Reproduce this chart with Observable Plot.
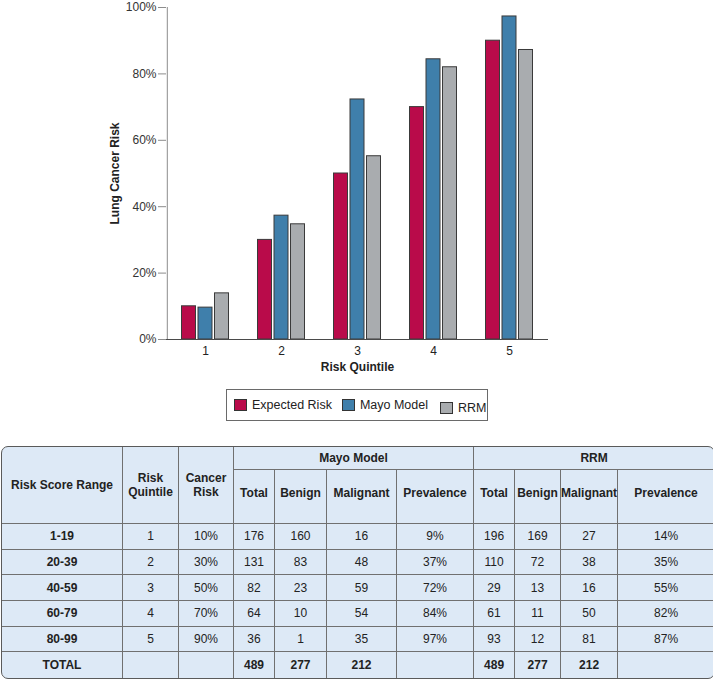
<!DOCTYPE html>
<html>
<head>
<meta charset="utf-8">
<script src="https://cdn.jsdelivr.net/npm/d3@7"></script>
<script src="https://cdn.jsdelivr.net/npm/@observablehq/plot@0.6"></script>
<style>
  html, body { margin: 0; padding: 0; background: #fff; overflow: hidden; width: 713px; height: 679px; }
  body { font-family: "Liberation Sans", Arial, Helvetica, sans-serif; color: #222; position: relative; }
  #chart { position: absolute; left: 0; top: 0; }
  #legend { position: absolute; left: 226px; top: 389px; width: 260px; height: 30px; border: 1px solid #6a6a6a;
            display: flex; align-items: center; font-size: 12.5px; box-sizing: content-box; }
  #legend .item { display: flex; align-items: center; margin-left: 7px; }
  #legend .item + .item { margin-left: 10px; }
  #legend .sw { width: 11px; height: 10px; border: 1px solid #333; margin-right: 5px; }
  #tbl { position: absolute; left: 1px; top: 446px; }
  table { border-collapse: separate; border-spacing: 0; table-layout: fixed; width: 712px;
          border: 1px solid #5a5a5a; border-radius: 7px; background: #dde9f6; font-size: 12px; color: #222; }
  td, th { padding: 0; text-align: center; vertical-align: middle; border-right: 1px solid #707070;
           border-bottom: 1px solid #707070; box-sizing: border-box; line-height: 14px; }
  th { font-weight: bold; }
  td.last, th.last { border-right: none; }
  tr.lastrow td { border-bottom: none; }
  td.b { font-weight: bold; }
  th.sub { padding-bottom: 8px; }
</style>
</head>
<body>
<div id="chart"></div>
<div id="legend"></div>
<div id="tbl"></div>
<script>
// ---------- chart data ----------
const quintiles = [1, 2, 3, 4, 5];
const seriesNames = ["Expected Risk", "Mayo Model", "RRM"];
const seriesColors = ["#b90b4a", "#3f7fab", "#a9acaf"];
const expectedRisk = [10, 30, 50, 70, 90];
const mayoRisk = [9.6, 37.3, 72.3, 84.4, 97.3];
const rrmRisk = [13.9, 34.7, 55.2, 82, 87.2];
const yTicks = [0, 20, 40, 60, 80, 100];
const yTitle = "Lung Cancer Risk";
const xTitle = "Risk Quintile";

// ---------- table data ----------
const headerLeft = ["Risk Score Range", "Risk<br>Quintile", "Cancer<br>Risk"];
const groupHeaders = ["Mayo Model", "RRM"];
const subHeaders = ["Total", "Benign", "Malignant", "Prevalence"];
const scoreRanges = ["1-19", "20-39", "40-59", "60-79", "80-99"];
const cancerRisk = ["10%", "30%", "50%", "70%", "90%"];
const mayoTotal = [176, 131, 82, 64, 36];
const mayoBenign = [160, 83, 23, 10, 1];
const mayoMalignant = [16, 48, 59, 54, 35];
const mayoPrevalence = ["9%", "37%", "72%", "84%", "97%"];
const rrmTotal = [196, 110, 29, 61, 93];
const rrmBenign = [169, 72, 13, 11, 12];
const rrmMalignant = [27, 38, 16, 50, 81];
const rrmPrevalence = ["14%", "35%", "55%", "82%", "87%"];
const totalLabel = "TOTAL";
const mayoTotals = [489, 277, 212];
const rrmTotals = [489, 277, 212];
const colWidths = [121, 56, 55, 41, 52, 70, 77, 41, 46, 57, 96];

// ---------- chart ----------
const seriesValues = [expectedRisk, mayoRisk, rrmRisk];
const data = seriesNames.flatMap((s, i) => quintiles.map((q, j) => ({quintile: q, series: s, value: seriesValues[i][j]})));
const offsets = [-16.5, 0, 16.5];

const chart = Plot.plot({
  width: 713,
  height: 380,
  marginLeft: 166,
  marginRight: 165,
  marginTop: 7,
  marginBottom: 41,
  style: {fontFamily: "'Liberation Sans', Arial, Helvetica, sans-serif", fontSize: "12px", color: "#333", background: "white"},
  x: {type: "band", domain: quintiles, paddingInner: 0.81, paddingOuter: 0.405},
  y: {domain: [0, 100]},
  color: {domain: seriesNames, range: seriesColors},
  marks: [
    ...seriesNames.map((s, i) => Plot.barY(data.filter(d => d.series === s), {
      x: "quintile", y: "value", fill: "series", stroke: "#3a3a3a", strokeWidth: 1, dx: offsets[i]
    })),
    Plot.axisY({ticks: yTicks, tickFormat: d => d + "%", tickSize: 8, tickPadding: 2, stroke: "#8c8c8c", fill: "#333", label: null}),
    // vertical y-axis line at the left edge of the first quintile's step
    Plot.ruleX([quintiles[0]], {y1: 0, y2: 100, dx: -38.2, stroke: "#8c8c8c"}),
    Plot.ruleY([0], {stroke: "#4a4a4a"}),
    Plot.axisX({tickSize: 0, tickPadding: 7, label: null, fill: "#222"}),
    Plot.text([yTitle], {frameAnchor: "left", textAnchor: "middle", lineAnchor: "middle", rotate: -90, dx: -51, fontWeight: "bold", fontSize: 12, fill: "#222"}),
    Plot.text([xTitle], {frameAnchor: "bottom", textAnchor: "middle", lineAnchor: "middle", dy: 28, fontWeight: "bold", fontSize: 12, fill: "#222"})
  ]
});
document.getElementById("chart").append(chart);

// ---------- legend ----------
const legend = document.getElementById("legend");
seriesNames.forEach((s, i) => {
  const item = document.createElement("div");
  item.className = "item";
  if (i === 2) { item.style.position = "relative"; item.style.top = "2.5px"; item.style.marginLeft = "12px"; }
  const sw = document.createElement("div");
  sw.className = "sw";
  sw.style.background = seriesColors[i];
  const t = document.createElement("span");
  t.textContent = s;
  item.append(sw, t);
  legend.append(item);
});

// ---------- table ----------
let html = "<table><colgroup>" + colWidths.map(w => `<col style="width:${w}px">`).join("") + "</colgroup>";
html += `<tr style="height:23px">` +
  headerLeft.map(h => `<th rowspan="2">${h}</th>`).join("") +
  groupHeaders.map((g, i) => `<th colspan="4" class="${i === 1 ? "last" : ""}">${g}</th>`).join("") + "</tr>";
html += `<tr style="height:54px">` +
  [...subHeaders, ...subHeaders].map((h, i) => `<th class="sub ${i === 7 ? "last" : ""}">${h}</th>`).join("") + "</tr>";
scoreRanges.forEach((r, j) => {
  const cells = [quintiles[j], cancerRisk[j], mayoTotal[j], mayoBenign[j], mayoMalignant[j], mayoPrevalence[j],
                 rrmTotal[j], rrmBenign[j], rrmMalignant[j], rrmPrevalence[j]];
  html += `<tr style="height:25.7px"><td class="b">${r}</td>` +
    cells.map((c, i) => `<td class="${i === cells.length - 1 ? "last" : ""}">${c}</td>`).join("") + "</tr>";
});
const totalCells = ["", "", ...mayoTotals, "", ...rrmTotals, ""];
html += `<tr class="lastrow" style="height:25.7px"><td class="b">${totalLabel}</td>` +
  totalCells.map((c, i) => `<td class="b ${i === totalCells.length - 1 ? "last" : ""}">${c}</td>`).join("") + "</tr>";
html += "</table>";
document.getElementById("tbl").innerHTML = html;
</script>
</body>
</html>
